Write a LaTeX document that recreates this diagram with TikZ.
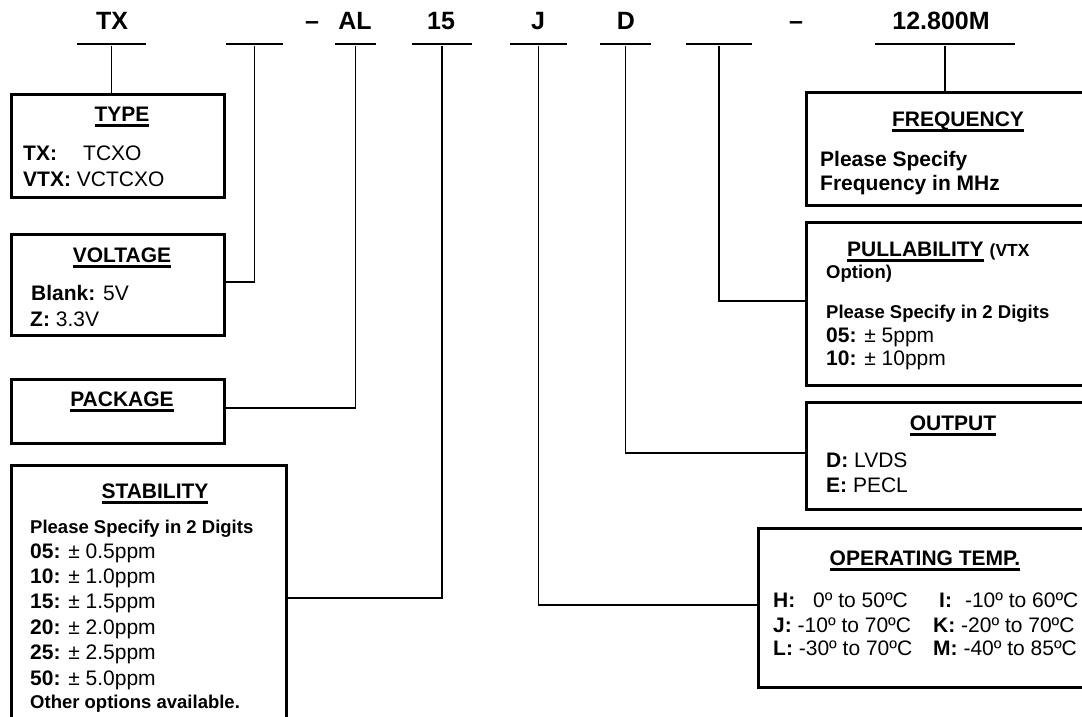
\documentclass[tikz,border=0pt]{standalone}
\usepackage{fontspec}
\setmainfont{Liberation Sans}
\newcommand\titleline[1]{\setbox0\hbox{#1}\leavevmode\rlap{\rule[-5pt]{\wd0}{2.5pt}}\box0}

\begin{document}
\begin{tikzpicture}[x=1pt, y=-1pt,
	code/.style={inner sep=0, anchor=base, font=\fontsize{25}{30}\selectfont\bfseries},
	codebar/.style={fill, inner sep=0, minimum height=2.8, anchor=center},
	box/.style={draw, line width=2.7pt, inner sep=0, anchor=north west},
	link/.style={line width=1.8pt},
	ttl/.style={inner sep=0, anchor=base, font=\fontsize{21}{25}\selectfont\bfseries},
	txt/.style={inner sep=0, anchor=base west, font=\fontsize{21}{25}\selectfont},
	small/.style={inner sep=0, anchor=base west, font=\fontsize{18.5}{22}\selectfont\bfseries}]
	
	\useasboundingbox (0,0) rectangle (1082,717);
	\clip (0,0) rectangle (1082,717);
	
	% 型号代码
	\node[code] (cTX) at (112,30) {TX};
	\node[code] (dash1) at (312,30) {\textendash};
	\node[code] (cAL) at (355,30) {AL};
	\node[code] (c15) at (441,30) {15};
	\node[code] (cJ) at (538,30) {J};
	\node[code] (cD) at (626,30) {D};
	\node[code] (dash2) at (796,30) {\textendash};
	\node[code] (cF) at (941,30) {12.800M};
	
	% 代码下划线
	\node[codebar, minimum width=69] (uTX) at (111.5,44) {};
	\node[codebar, minimum width=57] (uV) at (254.5,44) {};
	\node[codebar, minimum width=41] (uAL) at (355.5,44) {};
	\node[codebar, minimum width=60] (u15) at (442,44) {};
	\node[codebar, minimum width=57] (uJ) at (538.5,44) {};
	\node[codebar, minimum width=51] (uD) at (625.5,44) {};
	\node[codebar, minimum width=66] (uP) at (719,44) {};
	\node[codebar, minimum width=140] (uF) at (945,44) {};
	
	% 说明框
	\node[box, minimum width=213, minimum height=103] (type) at (10,93) {};
	\node[box, minimum width=213, minimum height=101] (volt) at (10,233) {};
	\node[box, minimum width=213, minimum height=64] (pack) at (10,378) {};
	\node[box, minimum width=275, minimum height=272] (stab) at (10,464) {};
	\node[box, minimum width=290, minimum height=113] (freq) at (805,91) {};
	\node[box, minimum width=290, minimum height=163] (pull) at (805,221) {};
	\node[box, minimum width=290, minimum height=107] (outp) at (805,401) {};
	\node[box, minimum width=338, minimum height=159] (temp) at (757,527) {};
	
	% 连线
	\draw[link] (uTX.south) -- (uTX.south |- type.north);
	\draw[link] (uV.south) |- ([yshift=3pt]volt.east);
	\draw[link] (uAL.south) |- ([yshift=3pt]pack.east);
	\draw[link] (u15.south) |- ([yshift=3pt]stab.east);
	\draw[link] (uJ.south) |- ([yshift=3pt]temp.west);
	\draw[link] (uD.south) |- ([yshift=3pt]outp.west);
	\draw[link] (uP.south) |- ([yshift=3pt]pull.west);
	\draw[link] (uF.south) -- (uF.south |- freq.north);
	
	% TYPE
	\node[ttl] (tType) at (122,121.5) {\titleline{TYPE}};
	\node[txt] (tTX) at (23,160.5) {\textbf{TX:}};
	\node[txt] (tTCXO) at (83,160.5) {TCXO};
	\node[txt] (tVTX) at (23,186.5) {\textbf{VTX:} VCTCXO};
	
	% VOLTAGE
	\node[ttl] (tVolt) at (122,262.5) {\titleline{VOLTAGE}};
	\node[txt] (tBlank) at (31,300.5) {\textbf{Blank:} 5V};
	\node[txt] (tZ) at (30,326.5) {\textbf{Z:} 3.3V};
	
	% PACKAGE
	\node[ttl] (tPack) at (122,406.5) {\titleline{PACKAGE}};
	
	% STABILITY
	\node[ttl] (tStab) at (155,498.5) {\titleline{STABILITY}};
	\node[small] (sDig) at (30,533.5) {Please Specify in 2 Digits};
	\node[txt] (s05) at (30,558.5) {\textbf{05:} ± 0.5ppm};
	\node[txt] (s10) at (30,583.5) {\textbf{10:} ± 1.0ppm};
	\node[txt] (s15) at (30,608.5) {\textbf{15:} ± 1.5ppm};
	\node[txt] (s20) at (30,634) {\textbf{20:} ± 2.0ppm};
	\node[txt] (s25) at (30,659.5) {\textbf{25:} ± 2.5ppm};
	\node[txt] (s50) at (30,685) {\textbf{50:} ± 5.0ppm};
	\node[small] (sOther) at (30,708.5) {Other options available.};
	
	% FREQUENCY
	\node[ttl] (tFreq) at (958,126.5) {\titleline{FREQUENCY}};
	\node[txt, font=\fontsize{21}{25}\selectfont\bfseries] (fSpec) at (820,166.5) {Please Specify};
	\node[txt, font=\fontsize{21}{25}\selectfont\bfseries] (fMHz) at (820,190.5) {Frequency in MHz};
	
	% PULLABILITY
	\node[ttl, anchor=base west] (tPull) at (847,256.5) {\titleline{PULLABILITY}\hspace{6pt}{\fontsize{17.5}{20}\selectfont(VTX}};
	\node[small] (pOpt) at (826,278.5) {Option)};
	\node[small] (pDig) at (826,318.5) {Please Specify in 2 Digits};
	\node[txt] (p05) at (826,342) {\textbf{05:} ± 5ppm};
	\node[txt] (p10) at (826,365) {\textbf{10:} ± 10ppm};
	
	% OUTPUT
	\node[ttl] (tOut) at (953,430.5) {\titleline{OUTPUT}};
	\node[txt] (oD) at (826,467.5) {\textbf{D:} LVDS};
	\node[txt] (oE) at (826,492.5) {\textbf{E:} PECL};
	
	% OPERATING TEMP.
	\node[ttl] (tTemp) at (925,565.5) {\titleline{OPERATING TEMP.}};
	\node[txt] (mH) at (773,607.5) {\textbf{H:}\hspace{17.8pt}0º to 50ºC};
	\node[txt] (mI) at (939,607.5) {\textbf{I:}\hspace{13pt}-10º to 60ºC};
	\node[txt] (mJ) at (773,632.5) {\textbf{J:} -10º to 70ºC};
	\node[txt] (mK) at (933,632.5) {\textbf{K:} -20º to 70ºC};
	\node[txt] (mL) at (773,655.5) {\textbf{L:} -30º to 70ºC};
	\node[txt] (mM) at (933,655.5) {\textbf{M:} -40º to 85ºC};
\end{tikzpicture}
\end{document}
